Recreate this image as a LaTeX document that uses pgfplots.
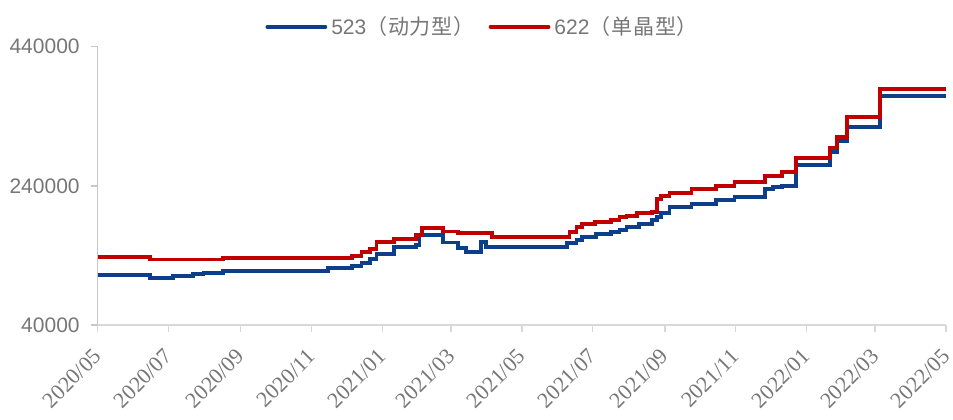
\documentclass[border=0pt]{standalone}
\usepackage{pgfplots}
\pgfplotsset{compat=1.18}
\usepackage{fontspec}
\setmainfont{Liberation Sans}
\newfontfamily\cjk{Noto Sans CJK SC}[LetterSpace=4]
\newfontfamily\dateserif{Liberation Serif}

\definecolor{ser523}{RGB}{12,62,140}
\definecolor{ser622}{RGB}{192,0,0}
\definecolor{txtgray}{RGB}{118,118,118}
\definecolor{axgray}{RGB}{200,200,200}

% x = days since 2020-05-01
\pgfplotstableread{
day  price
0    111400
45   107500
65   110800
82   113300
91   115200
108  117200
198  121500
219  124800
227  129100
234  134800
240  142000
255  151700
274  155000
277  169000
297  158700
310  151100
317  145300
330  158800
334  151700
404  157400
412  162100
417  166900
429  170300
442  174100
449  176500
455  181300
466  184700
477  190900
481  195600
485  200500
492  209100
511  214000
532  219600
548  224400
574  235400
581  237900
589  240200
601  269900
630  289000
636  304800
645  325000
673  369500
730  369500
}\tblue

\pgfplotstableread{
day  price
0    137300
45   134100
108  136300
219  139600
227  144500
234  148800
240  159700
255  163600
274  169300
279  179000
297  174400
310  172200
339  166900
406  174100
412  181300
417  184700
428  187600
442  190900
449  194800
455  197100
464  200500
477  202800
481  220600
485  225400
492  229300
511  235000
532  240200
548  245100
574  254100
589  259400
601  279500
630  293900
636  309700
645  339300
673  379100
730  379100
}\tred

\begin{document}
\begin{tikzpicture}
\useasboundingbox (-48.85pt,-47pt) rectangle (427.7pt,162.55pt);
\begin{axis}[
  at={(0pt,0pt)}, anchor=south west,
  width=424.2pt, height=139.2pt,
  scale only axis,
  xmin=0, xmax=730,
  ymin=40000, ymax=440000,
  axis x line=bottom, axis y line=left,
  axis line style={axgray, line width=0.75pt, -},
  x axis line style={draw=axgray!70},
  xtick={0,61,123,184,245,304,365,426,488,549,610,669,730},
  xticklabels={2020/05,2020/07,2020/09,2020/11,2021/01,2021/03,2021/05,2021/07,2021/09,2021/11,2022/01,2022/03,2022/05},
  ytick={40000,240000,440000},
  scaled y ticks=false,
  yticklabel style={xshift=-2pt, font=\fontsize{10.5}{12}\selectfont, text=txtgray,
    /pgf/number format/.cd, fixed, 1000 sep={}, assume math mode=true},
  tick style={axgray, line width=0.75pt},
  tick align=outside,
  xtick style={axgray!70},
  major tick length=3.5pt,
  xticklabel style={font=\dateserif\fontsize{11}{12}\selectfont, text=txtgray,
    xshift=2.4pt, yshift=-8pt, rotate=45, anchor=east},
  legend style={at={(0.455,1.071)}, anchor=center, draw=none, fill=none,
    legend columns=2, font=\fontsize{10.5}{12}\selectfont, text=txtgray,
    /tikz/every even column/.append style={column sep=5pt}},
  legend image code/.code={\draw[#1, line cap=round] (0pt,0pt) -- (29pt,0pt);},
  clip=false,
]
\addplot[const plot, ser523, line width=1.9pt] table[x=day, y=price] {\tblue};
\addlegendentry{523{\cjk（动力型）}}
\addplot[const plot, ser622, line width=1.9pt] table[x=day, y=price] {\tred};
\addlegendentry{622{\cjk（单晶型）}}
\end{axis}
\end{tikzpicture}
\end{document}
